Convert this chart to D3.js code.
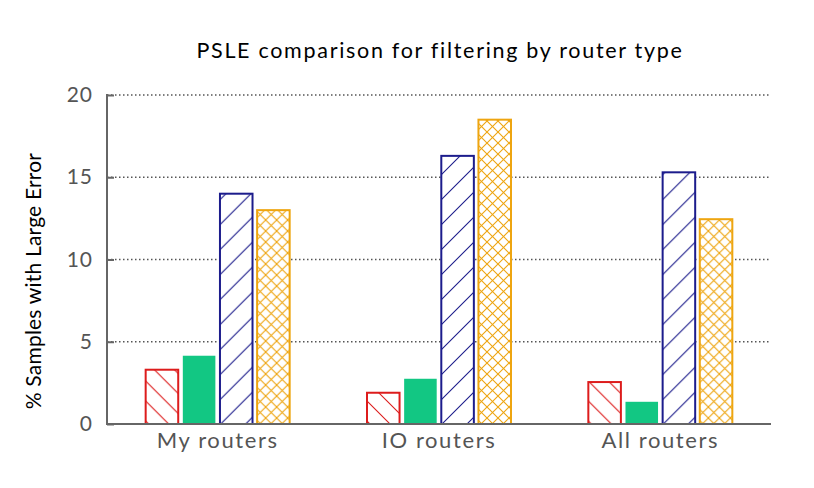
<!DOCTYPE html>
<html lang="en">
<head>
  <meta charset="utf-8">
  <title>PSLE comparison</title>
  <script src="https://d3js.org/d3.v7.min.js"></script>
  <style>
    body { margin: 0; background: #fff; }
    text { font-family: Lato, "Open Sans", sans-serif; }
  </style>
</head>
<body>
  <script>
    // data
    var categories = ["My routers", "IO routers", "All routers"];
    var seriesNames = ["a", "b", "c", "d"];
    var values = [
      [3.3, 4.15, 14.0, 13.0],
      [1.9, 2.75, 16.3, 18.5],
      [2.55, 1.35, 15.3, 12.45]
    ];
    var yTicks = [0, 5, 10, 15, 20];

    var width = 814, height = 488;
    var margin = {top: 95, right: 43, bottom: 64, left: 107};

    var svg = d3.select("body").append("svg")
      .attr("width", width)
      .attr("height", height);

    var defs = svg.append("defs");

    // hatch patterns
    function hatch(id, color, size, dirs) {
      var p = defs.append("pattern")
        .attr("id", id)
        .attr("patternUnits", "userSpaceOnUse")
        .attr("width", size).attr("height", size);
      p.append("rect").attr("width", size).attr("height", size).attr("fill", "#fff");
      dirs.forEach(function(d) {
        var path = d == "/"
          ? "M0," + size + " L" + size + ",0 M" + (-size / 2) + "," + (size / 2) + " L" + (size / 2) + "," + (-size / 2) + " M" + (size / 2) + "," + (size * 1.5) + " L" + (size * 1.5) + "," + (size / 2)
          : "M0,0 L" + size + "," + size + " M" + (-size / 2) + "," + (size / 2) + " L" + (size / 2) + "," + (size * 1.5) + " M" + (size / 2) + "," + (-size / 2) + " L" + (size * 1.5) + "," + (size / 2);
        p.append("path").attr("d", path).attr("stroke", color).attr("stroke-width", 1.1);
      });
    }
    hatch("pRed", "#dd1c1c", 20, ["\\"]);
    hatch("pBlue", "#1c1c8c", 25, ["/"]);
    hatch("pOrange", "#eea510", 11, ["/", "\\"]);

    var colors = ["#dd1c1c", "#12c783", "#1c1c8c", "#eea510"];
    var fills = ["url(#pRed)", "#12c783", "url(#pBlue)", "url(#pOrange)"];

    var x = d3.scaleBand()
      .domain(categories)
      .range([margin.left, width - margin.right]);

    var x1 = d3.scaleBand()
      .domain(seriesNames)
      .range([0, 146])
      .paddingInner(0.07);

    var y = d3.scaleLinear()
      .domain([0, 20])
      .range([height - margin.bottom, margin.top]);

    // grid
    svg.append("g")
      .selectAll("line")
      .data(yTicks.slice(1))
      .enter()
      .append("line")
      .attr("x1", margin.left)
      .attr("x2", width - margin.right)
      .attr("y1", function(d) { return y(d); })
      .attr("y2", function(d) { return y(d); })
      .attr("stroke", "#555")
      .attr("stroke-width", 1.5)
      .attr("stroke-dasharray", "1.5,2.5");

    // bars
    var groups = svg.append("g")
      .selectAll("g")
      .data(values)
      .enter()
      .append("g")
      .attr("transform", function(d, i) {
        return "translate(" + (x(categories[i]) + x.bandwidth() / 2 - 73) + ",0)";
      });

    groups.selectAll("rect")
      .data(function(d) { return d; })
      .enter()
      .append("rect")
      .attr("x", function(d, i) { return x1(seriesNames[i]) + 1; })
      .attr("width", x1.bandwidth() - 2)
      .attr("y", function(d) { return y(d); })
      .attr("height", function(d) { return y(0) - y(d); })
      .attr("fill", function(d, i) { return fills[i]; })
      .attr("stroke", function(d, i) { return colors[i]; })
      .attr("stroke-width", function(d, i) { return i == 1 ? 0 : 2; });

    // axes
    var yAxis = svg.append("g")
      .attr("transform", "translate(" + margin.left + ",0)")
      .call(d3.axisRight(y).tickValues(yTicks).tickSize(7).tickFormat(d3.format("d")));
    yAxis.select(".domain").remove();
    yAxis.selectAll("line").attr("stroke", "#666").attr("stroke-width", 2);
    yAxis.selectAll("text")
      .attr("x", -14)
      .attr("text-anchor", "end")
      .attr("fill", "#555")
      .style("font-size", "21px")
      .style("letter-spacing", "1px");

    svg.append("line")
      .attr("x1", margin.left).attr("x2", margin.left)
      .attr("y1", margin.top - 1).attr("y2", y(0) + 1)
      .attr("stroke", "#666").attr("stroke-width", 2);
    svg.append("line")
      .attr("x1", margin.left).attr("x2", width - margin.right)
      .attr("y1", y(0)).attr("y2", y(0))
      .attr("stroke", "#666").attr("stroke-width", 2);

    svg.append("g")
      .selectAll("text")
      .data(categories)
      .enter()
      .append("text")
      .attr("x", function(d) { return x(d) + x.bandwidth() / 2; })
      .attr("y", y(0) + 24)
      .attr("text-anchor", "middle")
      .attr("fill", "#555")
      .style("font-size", "22px")
      .style("letter-spacing", "1.6px")
      .text(function(d) { return d; });

    // titles
    svg.append("text")
      .attr("x", 440)
      .attr("y", 58)
      .attr("text-anchor", "middle")
      .style("font-size", "21.5px")
      .style("letter-spacing", "1.7px")
      .text("PSLE comparison for filtering by router type");

    svg.append("text")
      .attr("transform", "translate(41,281) rotate(-90)")
      .attr("text-anchor", "middle")
      .style("font-size", "21px")
      .style("letter-spacing", "0.2px")
      .text("% Samples with Large Error");
  </script>
</body>
</html>
